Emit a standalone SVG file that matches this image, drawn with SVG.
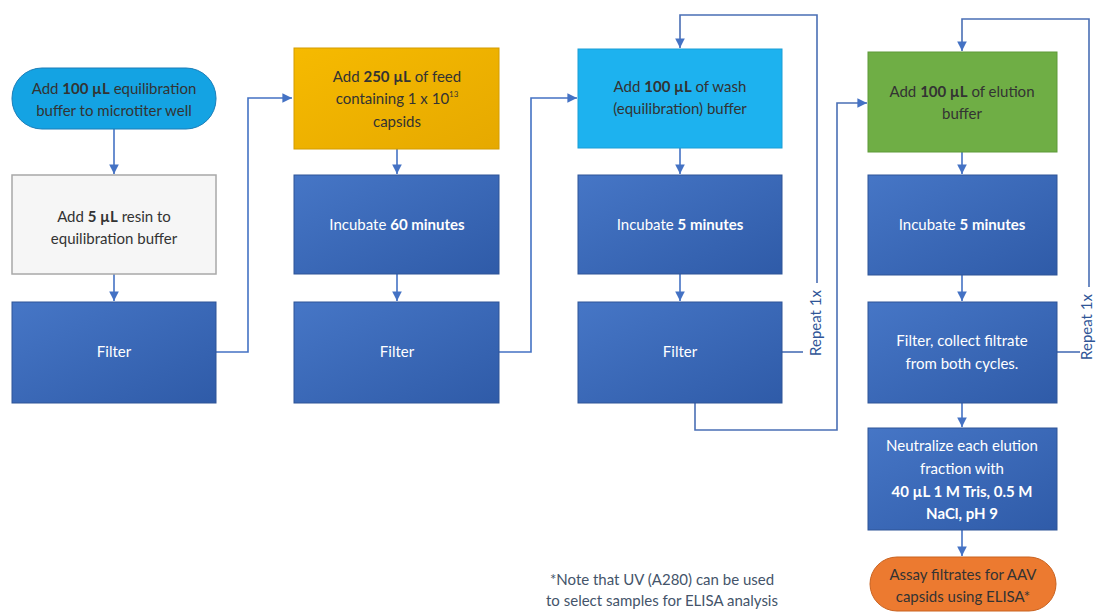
<svg xmlns="http://www.w3.org/2000/svg" width="1096" height="612" viewBox="0 0 1096 612">
<defs>
<linearGradient id="gBlue" x1="0" y1="0" x2="1" y2="1">
<stop offset="0" stop-color="#4676C6"/>
<stop offset="1" stop-color="#2F5BA8"/>
</linearGradient>
<linearGradient id="gGold" x1="0" y1="0" x2="1" y2="1">
<stop offset="0" stop-color="#F6BA00"/>
<stop offset="1" stop-color="#E6A900"/>
</linearGradient>
<marker id="ah" viewBox="0 0 10 10" refX="10" refY="5" markerWidth="6" markerHeight="6" orient="auto" markerUnits="strokeWidth">
<path d="M0,0 L10,5 L0,10 z" fill="#4472C4"/>
</marker>
<style>
text{font-family:Lato,"Liberation Sans",sans-serif;font-size:15px;text-anchor:middle}
.w{fill:#FFFFFF}
.d{fill:#333333}
.b{font-weight:bold}
.blue{fill:url(#gBlue);stroke:#2E5597;stroke-width:1}
.c{fill:none;stroke:#4472C4;stroke-width:1.6}
.l{fill:none;stroke:#4A6FB5;stroke-width:1.6}
.rep{fill:#2F5597;font-size:15px}
.note{fill:#44546A;font-size:15px}
</style>
</defs>

<g id="connectors">
<path class="c" d="M114,129 V174" marker-end="url(#ah)"/>
<path class="c" d="M114,274 V301" marker-end="url(#ah)"/>
<path class="c" d="M216,352 H248 V98 H292" marker-end="url(#ah)"/>
<path class="c" d="M397,149 V174" marker-end="url(#ah)"/>
<path class="c" d="M397,274 V301" marker-end="url(#ah)"/>
<path class="c" d="M499,352 H531 V98 H577" marker-end="url(#ah)"/>
<path class="c" d="M680,148 V174" marker-end="url(#ah)"/>
<path class="c" d="M680,274 V301" marker-end="url(#ah)"/>
<path class="l" d="M817,283 V15 H680 V48" marker-end="url(#ah)"/>
<path class="l" d="M782,352 H803"/>
<path class="l" d="M695,403 V430 H837 V103 H867" marker-end="url(#ah)"/>
<path class="c" d="M962,152 V174" marker-end="url(#ah)"/>
<path class="c" d="M962,275 V301" marker-end="url(#ah)"/>
<path class="l" d="M1089,287 V19 H962 V51" marker-end="url(#ah)"/>
<path class="l" d="M1057,352 H1080"/>
<path class="c" d="M962,403 V427" marker-end="url(#ah)"/>
<path class="c" d="M962,530 V556" marker-end="url(#ah)"/>
<text class="rep" transform="translate(821,323) rotate(-90)">Repeat 1x</text>
<text class="rep" transform="translate(1092,327) rotate(-90)">Repeat 1x</text>
</g>

<g id="n1">
<rect x="12" y="68" width="204" height="61" rx="30" ry="30" fill="#14A3E3" stroke="#1A7DB8" stroke-width="1"/>
<text class="d" x="114" y="94">Add <tspan class="b">100 µL</tspan> equilibration</text>
<text class="d" x="114" y="116">buffer to microtiter well</text>
</g>
<g id="n2">
<rect x="12" y="175" width="204" height="99" fill="#F6F6F6" stroke="#A8A8A8" stroke-width="1.5"/>
<text class="d" x="114" y="222">Add <tspan class="b">5 µL</tspan> resin to</text>
<text class="d" x="114" y="244">equilibration buffer</text>
</g>
<g id="n3">
<rect class="blue" x="12" y="302" width="204" height="101"/>
<text class="w" x="114" y="357">Filter</text>
</g>

<g id="n4">
<rect x="294" y="48" width="205" height="101" fill="url(#gGold)" stroke="#D49C00" stroke-width="1"/>
<text class="d" x="397" y="82">Add <tspan class="b">250 µL</tspan> of feed</text>
<text class="d" x="397" y="104">containing 1 x 10<tspan font-size="8" dy="-7">13</tspan></text>
<text class="d" x="397" y="127">capsids</text>
</g>
<g id="n5">
<rect class="blue" x="294" y="175" width="205" height="99"/>
<text class="w" x="397" y="230">Incubate <tspan class="b">60 minutes</tspan></text>
</g>
<g id="n6">
<rect class="blue" x="294" y="302" width="205" height="101"/>
<text class="w" x="397" y="357">Filter</text>
</g>

<g id="n7">
<rect x="578" y="49" width="204" height="99" fill="#1DB2EF" stroke="#1A9ED6" stroke-width="1"/>
<text class="d" x="680" y="92">Add <tspan class="b">100 µL</tspan> of wash</text>
<text class="d" x="680" y="114">(equilibration) buffer</text>
</g>
<g id="n8">
<rect class="blue" x="578" y="175" width="204" height="99"/>
<text class="w" x="680" y="230">Incubate <tspan class="b">5 minutes</tspan></text>
</g>
<g id="n9">
<rect class="blue" x="578" y="302" width="204" height="101"/>
<text class="w" x="680" y="357">Filter</text>
</g>

<g id="n10">
<rect x="868" y="52" width="189" height="100" fill="#6FAE45" stroke="#5E9A38" stroke-width="1"/>
<text class="d" x="962" y="97">Add <tspan class="b">100 µL</tspan> of elution</text>
<text class="d" x="962" y="119">buffer</text>
</g>
<g id="n11">
<rect class="blue" x="868" y="175" width="189" height="100"/>
<text class="w" x="962" y="230">Incubate <tspan class="b">5 minutes</tspan></text>
</g>
<g id="n12">
<rect class="blue" x="868" y="302" width="189" height="101"/>
<text class="w" x="962" y="346">Filter, collect filtrate</text>
<text class="w" x="962" y="369">from both cycles.</text>
</g>
<g id="n13">
<rect class="blue" x="868" y="428" width="189" height="102"/>
<text class="w" x="962" y="451">Neutralize each elution</text>
<text class="w" x="962" y="474">fraction with</text>
<text class="w b" x="962" y="497">40 µL 1 M Tris, 0.5 M</text>
<text class="w b" x="962" y="519">NaCl, pH 9</text>
</g>
<g id="n14">
<rect x="870" y="557" width="186" height="54" rx="27" ry="27" fill="#EC7A30" stroke="#C9621F" stroke-width="1"/>
<text class="d" x="963" y="580">Assay filtrates for AAV</text>
<text class="d" x="963" y="602">capsids using ELISA*</text>
</g>

<g id="note">
<text class="note" x="662" y="585">*Note that UV (A280) can be used</text>
<text class="note" x="662" y="606">to select samples for ELISA analysis</text>
</g>
</svg>
